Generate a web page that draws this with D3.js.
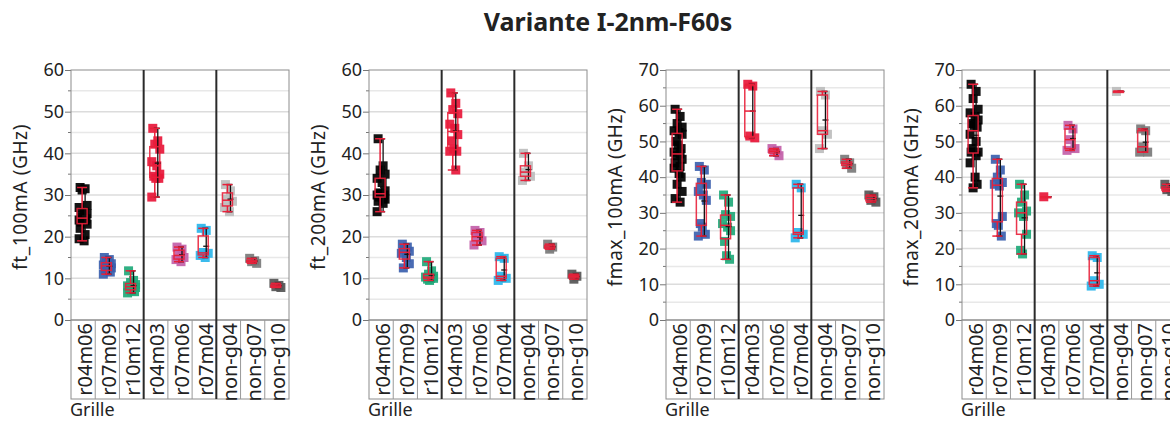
<!DOCTYPE html>
<html><head><meta charset="utf-8">
<script src="https://cdn.jsdelivr.net/npm/d3@7"></script>
<style>body{margin:0;background:#fff}svg{display:block}text{font-family:"Noto Sans",sans-serif;fill:#222}</style>
</head><body>
<script>
const chartTitle = "Variante I-2nm-F60s";
const categories = ["r04m06","r07m09","r10m12","r04m03","r07m06","r07m04","non-g04","non-g07","non-g10"];
const catColors = ["#000000","#3b5fae","#1fa97a","#e8173a","#c25fa8","#2ab5ea","#bdbdbd","#7a7a7a","#555555"];
const yLabels = ["ft_100mA (GHz)","ft_200mA (GHz)","fmax_100mA (GHz)","fmax_200mA (GHz)"];
const yMaxes = [60,60,70,70];
const xLabel = "Grille";

const ft100 = [
  [31.8,31.5,31.2,27.5,27,26,25.5,25,24.6,24.3,24,23.8,23.5,23,22,20.5,19.5,19],
  [15,14.5,14,13.5,13.2,13,12.5,12,11.8,11.5,11],
  [11.8,9.5,9,8.5,8.2,8,7.8,7.5,7,6.8,6.5],
  [46,43,42.2,41,38,37,35,34.5,34,34,29.5],
  [17.5,17,16,15,14.5,14],
  [22,21.5,16.2,16,15.5,15],
  [32.5,31,29,28.5,27,26],
  [14.8,14.2,14,13.6],
  [8.8,8.3,8,7.8]
];
const ft200 = [
  [43.5,37,36,35,34,33,31,30.5,30.3,30,30,29.8,29.5,29,28.5,28,26],
  [18.2,17.5,17,16.5,16,15,13.5,12.5],
  [14,11.8,11,10.5,10.3,10,10,9.8,9.5],
  [54.5,52,50.5,49.5,47,46,44.5,43,41,40.5,40.5,36],
  [21.5,21,20,19,18],
  [15.2,14.8,10.5,10,9.5],
  [40,37,35.5,34.5,33.5],
  [18.2,17.5,17],
  [11,10.5,9.8]
];
const fmax100 = [
  [59,57,55,54,53,52.5,52,50,49,48,47,46.5,46,45,44,43,42.5,41,40,38,36,34,33],
  [43,42,38.5,38,36,35,33.5,27,26,24,23.5],
  [35,33,29.5,29,27,26,25,22,18,17],
  [66,65.5,51.5,51],
  [48,47.5,47,46],
  [38,37,24.5,24,23],
  [64,63,53,52,48],
  [45,44,43.5,42.5],
  [35,34.5,33.5,33]
];
const fmax200 = [
  [66,64,62,59,58,57,56,55,54.5,54,52,50,48,47,47,46,44,40,38,37],
  [45,42,40,38.5,38,37.5,29,27,26.5,23.5],
  [38,35,33,30.5,30,29,24,19.5,18.5],
  [34.5],
  [54.5,53.5,50.5,48,47.5],
  [18,17.5,11,10,9.5],
  [64],
  [53.5,53,48.5,47,47],
  [38,37,36.5,36]
];
const panelsData = [ft100, ft200, fmax100, fmax200];

const W = 1170, H = 423;
const svg = d3.select("body").append("svg").attr("width", W).attr("height", H);

svg.append("text").attr("x", 608).attr("y", 31).attr("text-anchor","middle")
  .style("font-size","25px").style("font-weight","bold").text(chartTitle);

const lefts = [71, 369, 666, 962];
const pw = 218, topY = 70, botY = 320, boxBot = 399;
const jit = [-3,2,-1,4,-4,1,4,-2,0,3,-4,2,-2,4,-3,2,-4,1,3,-1,4,-3,2];

panelsData.forEach((data, p) => {
  const L = lefts[p], yMax = yMaxes[p];
  const x = d3.scaleBand().domain(categories).range([L, L + pw]);
  const y = d3.scaleLinear().domain([0, yMax]).range([botY, topY]);
  const g = svg.append("g");

  g.selectAll(".grid").data(d3.range(5, yMax, 5)).join("line")
    .attr("x1", L).attr("x2", L + pw).attr("y1", d => y(d)).attr("y2", d => y(d))
    .attr("stroke", d => d % 10 === 0 ? "#dcdcdc" : "#e8e8e8").attr("stroke-width", 1.5);

  const ax = g.append("g").attr("transform", `translate(${L},0)`)
    .call(d3.axisLeft(y).tickValues(d3.range(0, yMax + 1, 10)).tickFormat(d3.format("d")).tickSize(6).tickSizeOuter(0));
  ax.select(".domain").remove();
  ax.selectAll("line").attr("stroke", "#777");
  ax.selectAll("text").style("font-size","18px").style("font-family","'Noto Sans',sans-serif").attr("fill","#222").attr("x", -7);
  g.selectAll(".minor").data(d3.range(5, yMax, 10)).join("line")
    .attr("x1", L - 3).attr("x2", L).attr("y1", d => y(d)).attr("y2", d => y(d)).attr("stroke", "#777");

  g.append("text").attr("transform", `translate(${L - 51},${(topY + botY) / 2 + 2}) rotate(-90)`)
    .attr("text-anchor","middle").attr("dominant-baseline","central").style("font-size","19px")
    .style("letter-spacing","0.6px").text(yLabels[p]);

  categories.forEach((c, i) => {
    const vals = data[i];
    const cx = x(c) + x.bandwidth() / 2;
    const col = catColors[i];
    g.selectAll(null).data(vals).join("rect")
      .attr("x", (d, k) => cx + jit[k % jit.length] - 4.5)
      .attr("y", d => y(d) - 4.5).attr("width", 9).attr("height", 9)
      .attr("fill", col).attr("opacity", 0.92);

    const s = vals.slice().sort(d3.ascending);
    const q1 = d3.quantile(s, 0.25), q2 = d3.quantile(s, 0.5), q3 = d3.quantile(s, 0.75);
    const mn = s[0], mx = s[s.length - 1], mean = d3.mean(s);
    const bx = cx - 1;
    const rx = cx + 2;
    g.append("line").attr("x1", rx).attr("x2", rx).attr("y1", y(mn)).attr("y2", y(mx)).attr("stroke", "#111").attr("stroke-width", 1.3);
    [mn, mx].forEach(v => g.append("line").attr("x1", rx - 4).attr("x2", rx + 2).attr("y1", y(v)).attr("y2", y(v)).attr("stroke", "#111").attr("stroke-width", 1.5));
    g.append("line").attr("x1", rx - 3).attr("x2", rx + 3).attr("y1", y(mean)).attr("y2", y(mean)).attr("stroke", "#111").attr("stroke-width", 1.3);
    const red = "#e8203a";
    g.append("line").attr("x1", bx).attr("x2", bx).attr("y1", y(mx)).attr("y2", y(q3)).attr("stroke", red).attr("stroke-width", 1.5);
    g.append("line").attr("x1", bx).attr("x2", bx).attr("y1", y(q1)).attr("y2", y(mn)).attr("stroke", red).attr("stroke-width", 1.5);
    [mn, mx].forEach(v => g.append("line").attr("x1", bx - 5).attr("x2", bx + 5).attr("y1", y(v)).attr("y2", y(v)).attr("stroke", red).attr("stroke-width", 1.5));
    g.append("rect").attr("x", bx - 5).attr("y", y(q3)).attr("width", 10).attr("height", Math.max(1, y(q1) - y(q3)))
      .attr("fill", "none").attr("stroke", red).attr("stroke-width", 1.5).attr("opacity", 0.9);
    g.append("line").attr("x1", bx - 5).attr("x2", bx + 5).attr("y1", y(q2)).attr("y2", y(q2)).attr("stroke", red).attr("stroke-width", 1.5);
  });

  g.append("rect").attr("x", L).attr("y", topY).attr("width", pw).attr("height", botY - topY)
    .attr("fill", "none").attr("stroke", "#8c8c8c");
  g.append("rect").attr("x", L).attr("y", botY).attr("width", pw).attr("height", boxBot - botY)
    .attr("fill", "none").attr("stroke", "#8c8c8c");
  g.selectAll(".sep").data(categories.slice(1)).join("line")
    .attr("x1", d => x(d)).attr("x2", d => x(d)).attr("y1", botY).attr("y2", boxBot).attr("stroke", "#999");
  g.selectAll(".grp").data([categories[3], categories[6]]).join("line")
    .attr("x1", d => x(d)).attr("x2", d => x(d)).attr("y1", topY).attr("y2", boxBot).attr("stroke", "#2a2a2a").attr("stroke-width", 2);
  g.selectAll(".cl").data(categories).join("text")
    .attr("transform", d => `translate(${x(d) + x.bandwidth() / 2 + 1},${botY + 3}) rotate(-90)`)
    .attr("text-anchor","end").attr("dominant-baseline","central").style("font-size","20px").text(d => d);

  g.append("text").attr("x", L - 1).attr("y", 416).style("font-size","18px").text(xLabel);
});
</script>
</body></html>
